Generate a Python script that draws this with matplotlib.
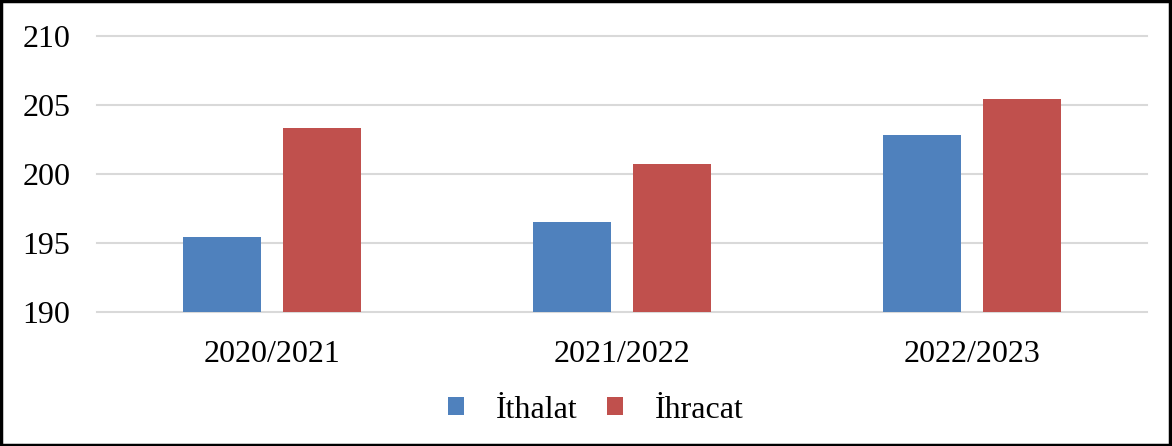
import matplotlib
matplotlib.use("Agg")
import matplotlib.pyplot as plt
from matplotlib.patches import Rectangle
import numpy as np

categories = ["2020/2021", "2021/2022", "2022/2023"]
ithalat = [195.4, 196.5, 202.8]
ihracat = [203.3, 200.7, 205.4]
yticks = [190, 195, 200, 205, 210]

plt.rcParams['font.family'] = ['Liberation Serif', 'DejaVu Serif']

fig = plt.figure(figsize=(11.72, 4.46), dpi=100)
ax = fig.add_axes([97/1172, 1 - 312/446, (1147 - 97)/1172, (312 - 36)/446])

x = np.arange(len(categories))
w = 0.223
off = 0.142
ax.bar(x - off, [v - 190 for v in ithalat], w, bottom=190, color="#4F81BD", label="İthalat", zorder=3)
ax.bar(x + off, [v - 190 for v in ihracat], w, bottom=190, color="#C0504D", label="İhracat", zorder=3)

ax.set_ylim(190, 210)
ax.set_xlim(-0.5, 2.5)
ax.set_yticks(yticks)
ax.set_xticks(x)
ax.set_xticklabels(categories)
ax.yaxis.grid(True, color="#D9D9D9", linewidth=1.5, zorder=0)
for gl in ax.get_ygridlines():
    gl.set_clip_on(False)
for s in ax.spines.values():
    s.set_visible(False)
ax.tick_params(axis='both', length=0, labelsize=23)
ax.tick_params(axis='y', pad=19)
ax.tick_params(axis='x', pad=20)

leg = fig.legend(loc='center', bbox_to_anchor=(596/1172, 1 - 410/446), ncol=2, frameon=False,
                 fontsize=23, handlelength=0.5, handleheight=0.5, handletextpad=1.0, columnspacing=0.9)

fig.add_artist(Rectangle((0.001, 0.002), 0.997, 0.995, transform=fig.transFigure,
                         fill=False, edgecolor='black', linewidth=2.5))

fig.savefig("out.png", dpi=100)
